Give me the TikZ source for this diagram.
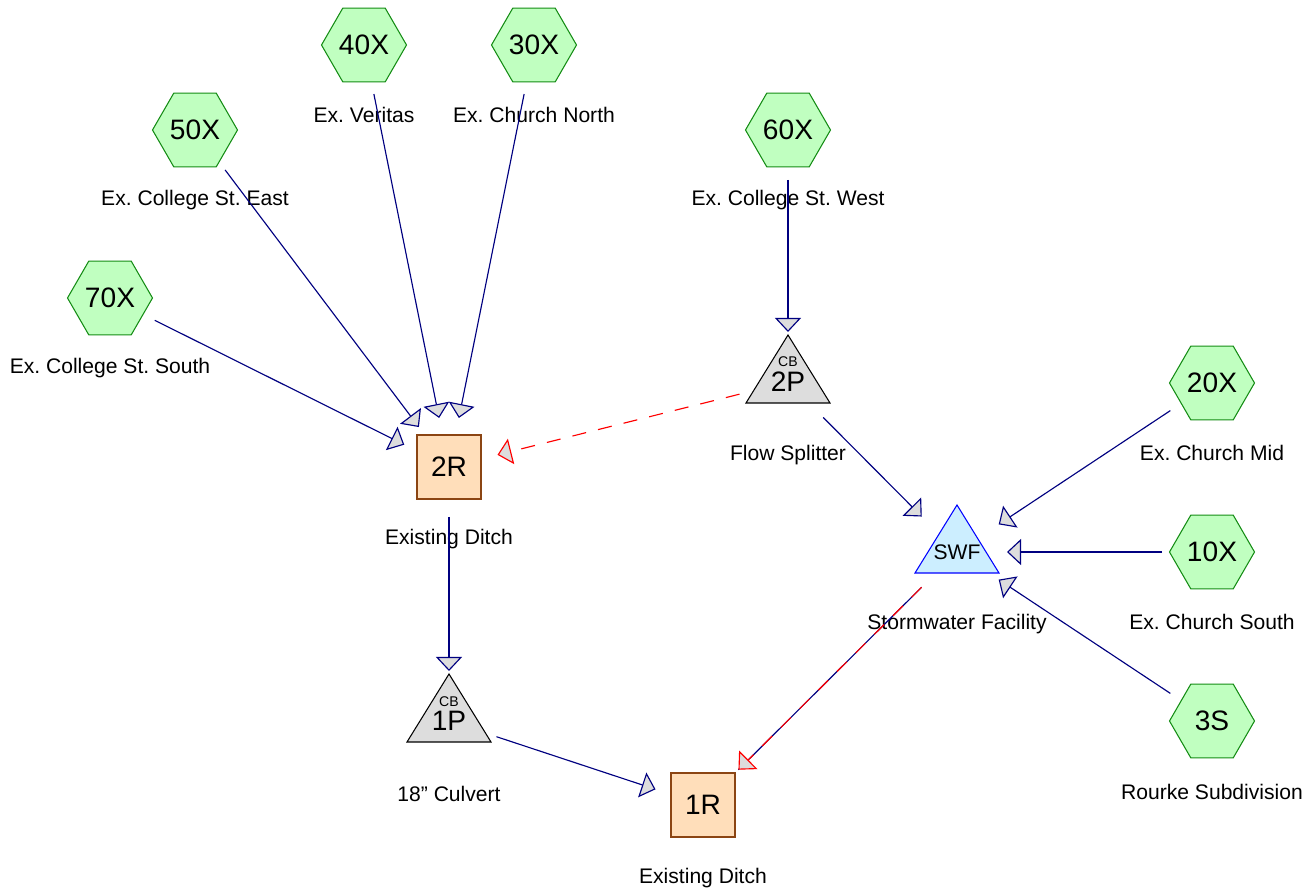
\documentclass[tikz,border=0pt]{standalone}
\usepackage{fontspec}
\setmainfont{Liberation Sans}
\usetikzlibrary{arrows.meta,shapes.geometric,backgrounds}
\definecolor{linkblue}{RGB}{0,0,128}
\definecolor{hexgreen}{RGB}{192,255,192}
\definecolor{hexedge}{RGB}{20,140,20}
\definecolor{ditchfill}{RGB}{255,222,186}
\definecolor{ditchedge}{RGB}{139,69,19}
\definecolor{pondgray}{RGB}{221,221,221}
\definecolor{swfblue}{RGB}{204,238,255}
\frenchspacing

\begin{document}
\begin{tikzpicture}[
  every node/.style={font=\fontsize{12}{14}\selectfont},
  subcat/.style={regular polygon,regular polygon sides=6,minimum size=1.7cm,
    inner sep=0pt,draw=hexedge,fill=hexgreen,line width=0.6pt,
    font=\fontsize{16}{18}\selectfont},
  reach/.style={rectangle,minimum size=1.28cm,inner sep=0pt,draw=ditchedge,
    fill=ditchfill,line width=0.6pt,font=\fontsize{16}{18}\selectfont},
  pond/.style={inner sep=0pt,font=\fontsize{16}{18}\selectfont},
  cbtag/.style={inner sep=0pt,font=\fontsize{8}{9}\selectfont},
  link/.style={draw=linkblue,line width=0.65pt,shorten <=1cm,shorten >=1cm,
    -{Triangle[length=0.28cm,width=0.52cm,fill=pondgray]}},
  spill/.style={link,draw=red,dash pattern=on 8pt off 7pt}]
  \useasboundingbox (0,0) rectangle (26.32,-17.88);

  % Subcatchments
  \node[subcat] (x40) at (7.28,-0.90) {40X};
  \node[subcat] (x30) at (10.68,-0.90) {30X};
  \node[subcat] (x50) at (3.90,-2.60) {50X};
  \node[subcat] (x60) at (15.76,-2.60) {60X};
  \node[subcat] (x70) at (2.20,-5.96) {70X};
  \node[subcat] (x20) at (24.24,-7.66) {20X};
  \node[subcat] (x10) at (24.24,-11.04) {10X};
  \node[subcat] (s3) at (24.24,-14.42) {3S};
  \node at ([yshift=-1.4cm]x40.center) {Ex. Veritas};
  \node at ([yshift=-1.4cm]x30.center) {Ex. Church North};
  \node at ([yshift=-1.4cm]x50.center) {Ex. College St. East};
  \node at ([yshift=-1.4cm]x60.center) {Ex. College St. West};
  \node at ([yshift=-1.4cm]x70.center) {Ex. College St. South};
  \node at ([yshift=-1.4cm]x20.center) {Ex. Church Mid};
  \node at ([yshift=-1.4cm]x10.center) {Ex. Church South};
  \node at ([yshift=-1.42cm]s3.center) {Rourke Subdivision};

  % Reaches
  \node[reach] (r2) at (8.98,-9.34) {2R};
  \node[reach] (r1) at (14.06,-16.10) {1R};
  \node at ([yshift=-1.44cm]r2.center) {Existing Ditch};
  \node at ([yshift=-1.46cm]r1.center) {Existing Ditch};

  % Ponds
  \node[pond] (p2) at (15.76,-7.64) {2P};
  \node[pond] (p1) at (8.98,-14.42) {1P};
  \node[pond,font=\fontsize{12}{14}\selectfont] (swf) at (19.14,-11.04) {SWF};
  \node[cbtag] at ([yshift=0.4cm]p2.center) {CB};
  \node[cbtag] at ([yshift=0.39cm]p1.center) {CB};
  \begin{scope}[on background layer]
    \foreach \n/\ln/\fl in {p2/black/pondgray,p1/black/pondgray,swf/blue/swfblue}
      \draw[draw=\ln,fill=\fl,line width=0.6pt] ([yshift=0.94cm]\n.center)
        -- ++(0.84,-1.36) -- ++(-1.68,0) -- cycle;
  \end{scope}
  \node at ([yshift=-1.46cm]p2.center) {Flow Splitter};
  \node at ([yshift=-1.46cm]p1.center) {18\symbol{34} Culvert};
  \node at ([yshift=-1.44cm]swf.center) {Stormwater Facility};

  % Links
  \foreach \a/\b in {x70/r2,x50/r2,x40/r2,x30/r2,x60/p2,p2/swf,x20/swf,
      x10/swf,s3/swf,r2/p1,p1/r1}
    \draw[link] (\a.center) -- (\b.center);
  \draw[spill] (p2.center) -- (r2.center);
  \draw[link,-] (swf.center) -- (r1.center);
  \draw[spill] (swf.center) -- (r1.center);
\end{tikzpicture}
\end{document}
